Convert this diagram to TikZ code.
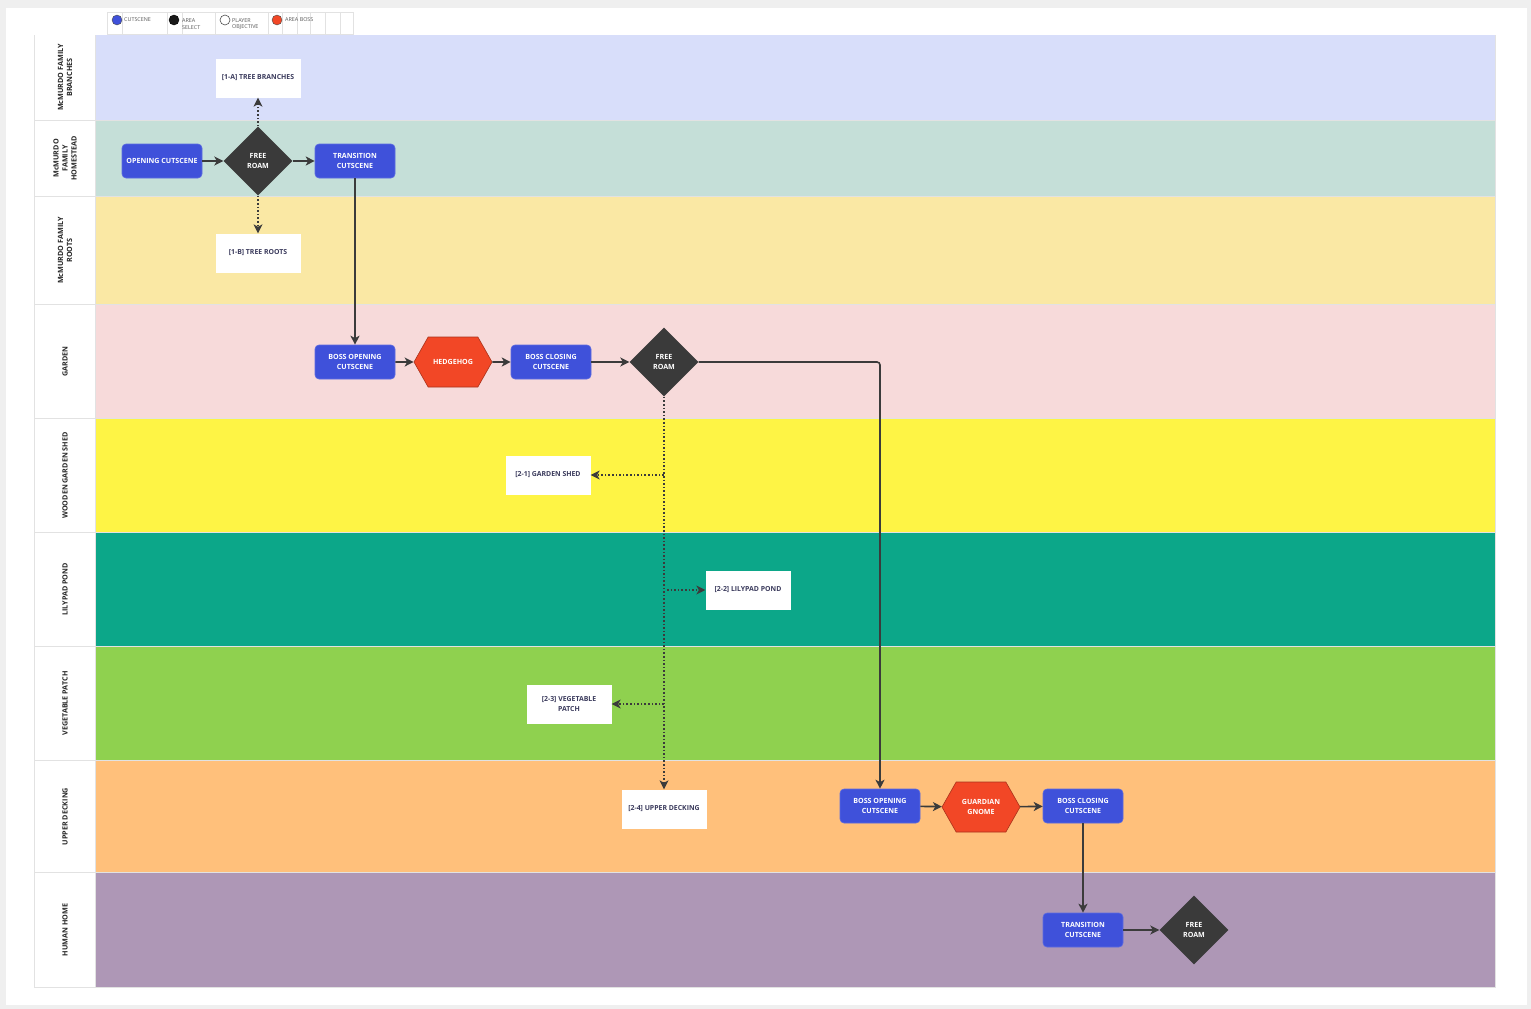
\documentclass[tikz,border=0pt]{standalone}
\usepackage{fontspec}
\setmainfont{Open Sans}
\usetikzlibrary{arrows.meta,shapes.geometric,shapes.symbols}
\definecolor{outer}{HTML}{EFEFEF}
\definecolor{cutblue}{HTML}{3F51DA}
\definecolor{roamgray}{HTML}{3A3A3A}
\definecolor{bossred}{HTML}{F24726}
\definecolor{edgegray}{HTML}{3B3B3B}
\definecolor{objtext}{HTML}{3A3A5C}
\definecolor{laneA}{HTML}{D8DEFA}
\definecolor{laneB}{HTML}{C5DFD8}
\definecolor{laneC}{HTML}{FAE8A4}
\definecolor{laneD}{HTML}{F7DADA}
\definecolor{laneE}{HTML}{FEF445}
\definecolor{laneF}{HTML}{0CA789}
\definecolor{laneG}{HTML}{8FD14F}
\definecolor{laneH}{HTML}{FFC07B}
\definecolor{laneI}{HTML}{AE97B6}
\definecolor{sepline}{HTML}{E2E2E2}
\tikzset{
  cutbox/.style={rectangle, rounded corners=4pt, fill=cutblue, draw=cutblue!85!white, line width=0.6pt,
    minimum width=80pt, minimum height=34pt, inner sep=1pt, text=white,
    font=\bfseries\fontsize{7.1}{10}\selectfont, align=center},
  roambox/.style={diamond, aspect=1, fill=roamgray, minimum width=69pt, minimum height=69pt, inner sep=0pt,
    text=white, font=\bfseries\fontsize{7.1}{10}\selectfont, align=center},
  bossbox/.style={signal, signal to=west and east, signal pointer angle=121, fill=bossred,
    draw=bossred!70!black, line width=0.6pt, minimum width=78pt, minimum height=50pt, inner sep=1pt,
    text=white, font=\bfseries\fontsize{7.1}{10}\selectfont, align=center},
  objbox/.style={rectangle, fill=white, minimum width=85pt, minimum height=39pt, inner sep=1pt,
    text=objtext, font=\bfseries\fontsize{6.9}{10}\selectfont, align=center},
  lanelabel/.style={rotate=90, text=black!85, font=\bfseries\fontsize{7.2}{9}\selectfont, align=center},
  legtext/.style={text=black!65, font=\fontsize{5.4}{6.5}\selectfont, align=left, anchor=west, inner sep=0pt},
  solidarrow/.style={draw=edgegray, line width=1.6pt, -{Stealth[length=9pt,width=9pt,inset=2.5pt]}},
  dotarrow/.style={draw=edgegray, line width=1.6pt, dotted, -{Stealth[length=9pt,width=9pt,inset=2.5pt,line width=0pt]}},
}
\begin{document}
\begin{tikzpicture}[x=1pt, y={(0pt,-1pt)}]
\useasboundingbox (0,0) rectangle (1531,1009);
\fill[outer] (0,0) rectangle (1531,1009);
\fill[white] (6,8) rectangle (1527,1005);
% legend
\draw[sepline, line width=0.6pt] (107,12) rectangle (353,34);
\foreach \xx in {122,167,182,215,268,282,297,310,325,340} \draw[sepline, line width=0.6pt] (\xx,12) -- (\xx,34);
\filldraw[fill=cutblue, draw=black!70, line width=0.4pt] (117,20) circle (5pt);
\node[legtext] (lg1) at (124,20) {CUTSCENE};
\filldraw[fill=black!90, draw=black, line width=0.4pt] (174,20) circle (5pt);
\node[legtext] (lg2) at (182,24) {AREA\\SELECT};
\filldraw[fill=white, draw=black!70, line width=0.6pt] (225,20) circle (5pt);
\node[legtext] (lg3) at (232,24) {PLAYER\\OBJECTIVE};
\filldraw[fill=bossred, draw=black!70, line width=0.4pt] (277,20) circle (5pt);
\node[legtext] (lg4) at (285,20) {AREA BOSS};
% lanes
\fill[sepline] (34,35) rectangle (1496,988);
\foreach \ya/\yb/\col/\lab in {
  35/120/laneA/{McMURDO FAMILY\\BRANCHES},
  121/196/laneB/{McMURDO\\FAMILY\\HOMESTEAD},
  197/304/laneC/{McMURDO FAMILY\\ROOTS},
  305/418/laneD/{GARDEN},
  419/532/laneE/{WOODEN GARDEN SHED},
  533/646/laneF/{LILYPAD POND},
  647/760/laneG/{VEGETABLE PATCH},
  761/872/laneH/{UPPER DECKING},
  873/987/laneI/{HUMAN HOME}} {
  \fill[white] (35,\ya) rectangle (95,\yb);
  \fill[\col] (96,\ya) rectangle (1495,\yb);
  \node[lanelabel] at (65,{(\ya+\yb)/2}) {\lab};
}
% nodes
\node[cutbox] (open) at (162,161) {OPENING CUTSCENE};
\node[roambox] (fr1) at (258,161) {FREE\\ROAM};
\node[cutbox] (trans1) at (355,161) {TRANSITION\\CUTSCENE};
\node[objbox] (b1a) at (258,78) {[1-A] TREE BRANCHES};
\node[objbox] (b1b) at (258,253) {[1-B] TREE ROOTS};
\node[cutbox] (bo1) at (355,362) {BOSS OPENING\\CUTSCENE};
\node[bossbox] (hh) at (453,362) {HEDGEHOG};
\node[cutbox] (bc1) at (551,362) {BOSS CLOSING\\CUTSCENE};
\node[roambox] (fr2) at (664,362) {FREE\\ROAM};
\node[objbox] (gs) at (548,475) {[2-1] GARDEN SHED};
\node[objbox] (lp) at (748,590) {[2-2] LILYPAD POND};
\node[objbox] (vp) at (569,704) {[2-3] VEGETABLE\\PATCH};
\node[objbox] (ud) at (664,809) {[2-4] UPPER DECKING};
\node[cutbox] (bo2) at (880,806) {BOSS OPENING\\CUTSCENE};
\node[bossbox] (gg) at (981,807) {GUARDIAN\\GNOME};
\node[cutbox] (bc2) at (1083,806) {BOSS CLOSING\\CUTSCENE};
\node[cutbox] (trans2) at (1083,930) {TRANSITION\\CUTSCENE};
\node[roambox] (fr3) at (1194,930) {FREE\\ROAM};
% edges
\draw[solidarrow] (open) -- (fr1);
\draw[solidarrow] (fr1) -- (trans1);
\draw[dotarrow] (fr1.north) -- (b1a.south);
\draw[dotarrow] (fr1.south) -- (b1b.north);
\draw[solidarrow] (trans1) -- (bo1);
\draw[solidarrow] (bo1) -- (hh);
\draw[solidarrow] (hh) -- (bc1);
\draw[solidarrow] (bc1) -- (fr2);
\draw[solidarrow, rounded corners=3pt] (fr2.east) -| (bo2.north);
\draw[dotarrow] (fr2.south) -- (ud.north);
\draw[dotarrow] (fr2.south |- gs.east) -- (gs.east);
\draw[dotarrow] ([xshift=3pt]fr2.south |- lp.west) -- (lp.west);
\draw[dotarrow] (fr2.south |- vp.east) -- (vp.east);
\draw[solidarrow] (bo2) -- (gg);
\draw[solidarrow] (gg) -- (bc2);
\draw[solidarrow] (bc2) -- (trans2);
\draw[solidarrow] (trans2) -- (fr3);
\end{tikzpicture}
\end{document}
